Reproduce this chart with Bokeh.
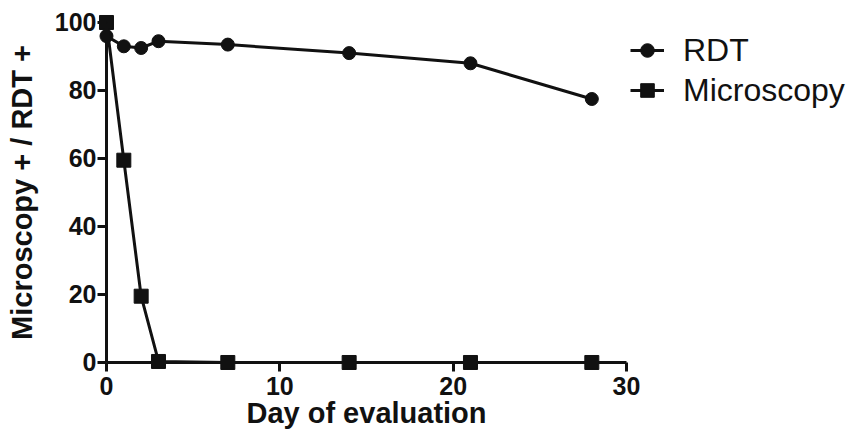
from bokeh.plotting import figure
from bokeh.models import Range1d, Legend, LegendItem, LinearAxis, FixedTicker
from bokeh.embed import file_html
from bokeh.resources import INLINE

days = [0, 1, 2, 3, 7, 14, 21, 28]
rdt = [96, 93, 92.5, 94.5, 93.5, 91, 88, 77.5]
microscopy = [100, 59.5, 19.5, 0.3, 0, 0, 0, 0]
x_ticks = [0, 10, 20, 30]
y_ticks = [0, 20, 40, 60, 80, 100]

FONT = "Liberation Sans"
W, H = 852, 432

p = figure(width=W, height=H,
           x_range=Range1d(-6.115, 43.04), y_range=Range1d(-20.59, 106.47),
           output_backend="svg", toolbar_location=None,
           x_axis_location=None, y_axis_location=None,
           min_border_left=0, min_border_top=0, min_border_right=0,
           min_border_bottom=0)
p.outline_line_color = None
p.xgrid.visible = False
p.ygrid.visible = False
p.background_fill_color = "white"
p.border_fill_color = "white"

xaxis = LinearAxis(fixed_location=0, bounds=(0, 30), ticker=FixedTicker(ticks=x_ticks),
                   axis_label="Day of evaluation")
yaxis = LinearAxis(fixed_location=0, bounds=(0, 100), ticker=FixedTicker(ticks=y_ticks),
                   axis_label="Microscopy + / RDT +")

for ax in (xaxis, yaxis):
    ax.axis_line_width = 3
    ax.major_tick_line_width = 3
    ax.major_tick_out = 9
    ax.major_tick_in = 0
    ax.minor_tick_line_color = None
    ax.major_label_text_font = FONT
    ax.major_label_text_font_style = "bold"
    ax.major_label_text_font_size = "25px"
    ax.major_label_text_color = "#111111"
    ax.axis_label_text_font = FONT
    ax.axis_label_text_font_style = "bold"
    ax.axis_label_text_font_size = "29px"
    ax.axis_label_text_color = "#111111"
    ax.axis_line_color = "#111111"
    ax.major_tick_line_color = "#111111"

xaxis.major_label_standoff = 6
yaxis.major_label_standoff = 1
xaxis.axis_label_standoff = -2
yaxis.axis_label_standoff = 14
p.add_layout(xaxis, "below")
p.add_layout(yaxis, "left")

l1 = p.line(days, rdt, line_color="#111111", line_width=3)
s1 = p.scatter(days, rdt, marker="circle", size=13, fill_color="#111111", line_color="#111111")
l2 = p.line(days, microscopy, line_color="#111111", line_width=3)
s2 = p.scatter(days, microscopy, marker="square", size=14, fill_color="#111111", line_color="#111111")

legend = Legend(items=[LegendItem(label="RDT", renderers=[l1, s1]),
                       LegendItem(label="Microscopy", renderers=[l2, s2])],
                location=(630, 322), padding=2, margin=0, spacing=0,
                glyph_height=40, glyph_width=34, label_height=40, label_standoff=19,
                label_text_font=FONT, label_text_font_size="32px",
                label_text_color="#111111",
                border_line_color=None, background_fill_alpha=0)
p.add_layout(legend)

open("out.html", "w").write(file_html(p, INLINE))
